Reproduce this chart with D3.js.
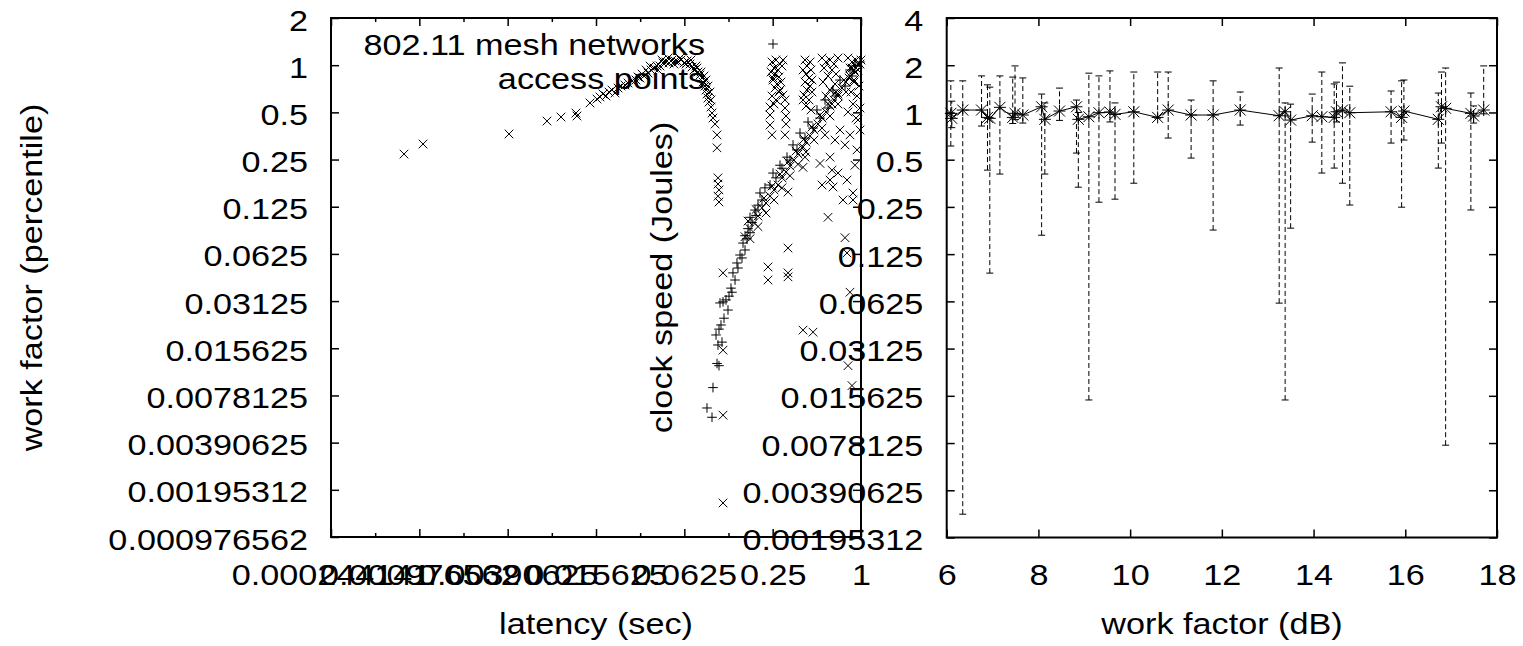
<!DOCTYPE html>
<html><head><meta charset="utf-8">
<script src="https://cdnjs.cloudflare.com/ajax/libs/d3/7.8.5/d3.min.js"></script>
<style>
body{margin:0;background:#fff}
text{font-family:"Liberation Sans",Arial,Helvetica,sans-serif;font-size:30px;fill:#000}
</style>
</head><body>
<svg id="c" width="1523" height="646"></svg>
<script>
// ---------------- DATA ----------------
const leftXTickValues = [0.000244140625, 0.0009765625, 0.00390625, 0.015625, 0.0625, 0.25, 1];
const leftXTickLabels = ["0.000244141","0.000976562","0.00390625","0.015625","0.0625","0.25","1"];
const leftXMinorTicks = [0.00048828125, 0.001953125, 0.0078125, 0.03125, 0.125, 0.5];
const leftYTickValues = [0.0009765625,0.001953125,0.00390625,0.0078125,0.015625,0.03125,0.0625,0.125,0.25,0.5,1,2];
const leftYTickLabels = ["0.000976562","0.00195312","0.00390625","0.0078125","0.015625","0.03125","0.0625","0.125","0.25","0.5","1","2"];
const rightXTickValues = [6,8,10,12,14,16,18];
const rightYTickValues = [0.001953125,0.00390625,0.0078125,0.015625,0.03125,0.0625,0.125,0.25,0.5,1,2,4];
const rightYTickLabels = ["0.00195312","0.00390625","0.0078125","0.015625","0.03125","0.0625","0.125","0.25","0.5","1","2","4"];

const seriesNames = ["802.11 mesh networks", "access points"];

// series "802.11 mesh networks" (+) : [latency, work factor]
const meshNetworks = [
[0.0892,0.0065],[0.0965,0.00567],[0.098,0.00877],[0.1044,0.0125],[0.1077,0.0121],[0.1077,0.0207],[0.1129,0.0171],
[0.1094,0.0304],[0.1147,0.0309],[0.124,0.0274],[0.132,0.0356],[0.1341,0.0473],[0.1428,0.0547],[0.1498,0.0615],
[0.157,0.0733],[0.1671,0.0781],[0.1752,0.0853],[0.1752,0.107],[0.1895,0.119],[0.2049,0.153],[0.2216,0.165],
[0.2514,0.205],[0.2805,0.23],[0.3131,0.259],[0.344,0.31],[0.384,0.369],[0.4354,0.434],[0.5011,0.518],[0.5684,0.6],
[0.6444,0.694],[0.7192,0.804],[0.8415,0.932],[0.9101,0.988],[0.9844,1.048],
[0.1028,0.019],[0.106,0.0164],[0.1111,0.022],[0.1165,0.0243],[0.1202,0.0318],[0.126,0.0336],[0.13,0.0378],
[0.1385,0.0426],[0.145,0.0508],[0.1545,0.0589],[0.162,0.0662],[0.162,0.0817],[0.1698,0.0906],[0.1808,0.0991],
[0.1925,0.11],[0.1986,0.128],[0.2114,0.138],
[0.2398,0.172],[0.2634,0.191],[0.2894,0.22],[0.3282,0.248],[0.3662,0.288],[0.4153,0.343],[0.4709,0.397],
[0.5255,0.46],[0.5957,0.533],[0.6755,0.636],[0.778,0.736],[0.8683,0.853]
];

// series "access points" (x)
const accessPoints = [
[0.000768,0.271],[0.001035,0.314],[0.00399,0.364],[0.00724,0.44],[0.00902,0.467],[0.01141,0.495],[0.01159,0.474],
[0.01422,0.574],[0.01587,0.608],
[0.01664,0.627],[0.01744,0.655],[0.01828,0.636],[0.01916,0.674],[0.02008,0.694],[0.02106,0.665],[0.02208,0.715],
[0.02314,0.736],[0.02463,0.747],[0.02584,0.77],[0.0275,0.793],[0.02929,0.804],[0.03118,0.828],[0.0332,0.853],
[0.03534,0.891],[0.03704,0.932],[0.03885,0.959],[0.04072,0.988],[0.04268,0.988],[0.04474,1.033],[0.04689,1.048],
[0.04915,1.033],[0.05151,1.079],[0.05399,1.064],[0.0566,1.048],[0.05932,1.079],[0.06218,1.033],[0.06517,1.064],
[0.06831,1.017],[0.0705,0.974],[0.07275,0.932],[0.07509,0.988],[0.07749,0.905],[0.07995,0.866],[0.0825,0.828],
[0.0838,0.781],[0.0865,0.736],[0.0878,0.694],[0.0892,0.655],[0.0906,0.617],[0.0921,0.582],[0.095,0.541],
[0.0965,0.495],[0.098,0.46],[0.1012,0.421],[0.1044,0.359],[0.1044,0.297],[0.106,0.191],[0.106,0.1745],
[0.1077,0.16],[0.106,0.146],[0.1077,0.134],[0.1147,0.0473],[0.1147,0.0152],[0.1147,0.00585],[0.1147,0.00161],
[0.0365,0.988],[0.0413,0.932],[0.044,1.079],[0.0484,1.111],[0.0531,1.017],[0.0584,1.111],[0.0642,1.017],
[0.0694,1.079],[0.0762,0.959],[0.0812,0.905],[0.0851,0.853],[0.0878,0.804],[0.0906,0.736],[0.0935,0.674],
[0.095,0.6],[0.0343,0.932],[0.0322,0.878],[0.0302,0.841],
[0.2474,1.048],[0.2634,1.079],[0.2805,1.017],[0.2554,0.959],[0.2718,0.932],[0.2894,0.988],[0.2594,0.878],
[0.2761,0.841],[0.2514,0.804],[0.2676,0.758],[0.2849,0.781],[0.2594,0.715],[0.2761,0.674],[0.2474,0.636],
[0.2634,0.6],[0.2398,0.541],[0.2398,0.481],[0.2398,0.415],[0.2474,0.359],
[0.2436,0.905],[0.294,1.079],[0.2805,0.694],[0.294,0.645],[0.2554,0.565],
[0.3034,0.6],[0.3034,0.533],[0.3082,0.474],[0.3082,0.421],[0.3034,0.359],
[0.4153,1.079],[0.4493,1.048],[0.4286,0.988],[0.4563,0.932],[0.4219,0.878],[0.4423,0.828],[0.4153,0.781],
[0.4493,0.736],[0.4286,0.694],[0.4089,0.645],[0.4423,0.6],[0.4219,0.549],[0.4563,0.518],
[0.4025,0.932],[0.4635,0.804],[0.4025,0.6],[0.4635,0.674],
[0.5422,1.111],[0.5773,1.048],[0.6148,1.079],[0.6546,1.017],[0.697,1.111],[0.5595,0.959],[0.6344,0.932],
[0.6755,0.878],[0.5957,0.853],[0.5508,0.781],[0.6649,0.758],[0.6148,0.694],[0.5773,0.636],[0.697,0.636],[0.6344,0.565],
[0.8155,1.111],[0.8683,1.048],[0.9245,1.079],[0.9844,1.017],[0.8415,0.959],[0.9101,0.905],[0.954,0.932],
[0.8284,0.828],[0.8959,0.781],[0.9691,0.736],[0.8548,0.674],[0.9391,0.636],[0.882,0.565],[0.9844,0.533],
[0.8155,0.503],[0.9245,0.46],
[0.162,0.0805],[0.1752,0.0906],[0.1866,0.0991],[0.1986,0.109],[0.2114,0.123],[0.2251,0.132],[0.2398,0.146],
[0.2554,0.16],[0.2718,0.172],[0.2894,0.191],[0.3082,0.208],[0.3282,0.227],[0.3495,0.248],[0.372,0.271],
[0.3962,0.297],[0.4219,0.323],[0.4493,0.354],[0.4783,0.386],[0.509,0.421],[0.5422,0.46],[0.5773,0.503],
[0.6148,0.549],[0.6546,0.6],[0.697,0.655],[0.7421,0.715],[0.7903,0.781],[0.8415,0.853],[0.8959,0.932],
[0.954,1.017],[1.0,1.079],
[0.1752,0.0781],[0.1986,0.0933],[0.2251,0.114],[0.2554,0.138],[0.2894,0.165],[0.3282,0.197],[0.372,0.233],
[0.4219,0.279],[0.4783,0.333],[0.5422,0.397],[0.6148,0.474],[0.697,0.565],[0.7903,0.674],[0.8959,0.804],
[0.1698,0.1013],[0.1925,0.120],[0.2182,0.142],[0.2474,0.1695],[0.2805,0.202],[0.318,0.241],[0.3606,0.2834],
[0.4089,0.338],[0.4635,0.4032],[0.5255,0.481],[0.5957,0.569],[0.6755,0.674],[0.7658,0.804],[0.8683,0.959],
[0.318,0.155],[0.4025,0.301],[0.4153,0.259],[0.4025,0.223],[0.5255,0.236],[0.5422,0.172],[0.6148,0.259],
[0.6344,0.214],[0.6148,0.185],[0.6444,0.167],[0.697,0.205],[0.8028,0.185],[0.882,0.153],[0.5957,0.107],
[0.7538,0.138],[0.882,0.138],[0.778,0.0793],[0.8028,0.0634],[0.8415,0.0356],[0.318,0.0681],[0.2324,0.0516],
[0.2324,0.0426],[0.318,0.0473],[0.318,0.0446],[0.4025,0.0204],[0.4709,0.0198],[0.8155,0.0121],[0.8683,0.00903],
[0.9391,0.288],[0.9101,0.23],[0.9844,0.386],[0.954,0.447],[0.778,0.31],[0.7192,0.386],[0.8415,0.359],
[0.6649,0.333],[0.5684,0.359]
];

// right panel: work factor (dB) vs clock speed (Joules) with low / high
const rightX  = [6.09,6.11,6.35,6.76,6.89,6.94,7.16,7.44,7.49,7.66,8.07,8.14,8.46,8.83,8.87,9.10,9.32,9.56,9.67,10.08,10.60,10.83,11.33,11.81,12.40,13.25,13.38,13.50,13.97,14.18,14.45,14.50,14.63,14.79,15.69,15.92,15.97,16.72,16.79,16.88,17.43,17.49,17.71];
const rightY  = [0.987,0.917,1.036,1.036,0.930,0.917,1.078,0.930,0.987,0.963,1.087,0.904,1.021,1.087,0.904,0.939,0.996,1.006,0.972,1.010,0.930,1.036,0.963,0.963,1.036,0.953,1.010,0.894,0.953,0.939,0.930,1.010,1.036,0.996,1.010,0.930,1.021,0.904,1.087,1.062,0.987,0.949,1.036];
const rightLo = [0.611,0.80,0.00275,0.819,0.429,0.0946,0.405,0.85,0.90,0.856,0.165,0.405,0.89,0.551,0.334,0.0147,0.268,0.87,0.280,0.354,0.92,0.687,0.512,0.178,0.831,0.0609,0.0147,0.183,0.647,0.411,0.442,0.87,0.354,0.257,0.638,0.249,0.667,0.442,0.638,0.00757,0.239,0.856,0.98];
const rightHi = [1.59,1.18,1.59,1.71,1.50,1.45,1.71,1.68,1.98,1.66,1.31,1.15,1.43,1.20,1.00,1.78,1.71,1.84,1.15,1.81,1.81,1.81,1.20,1.59,1.35,1.92,1.15,1.13,1.31,1.81,1.52,1.56,2.07,1.47,1.37,1.59,1.61,1.33,1.81,1.92,1.33,1.10,1.98];

// ---------------- DRAW ----------------
const SX = 1.14; // horizontal glyph stretch of the original rendering
const svg = d3.select("#c");

const lx = d3.scaleLog().base(2).domain([leftXTickValues[0], leftXTickValues[6]]).range([331, 861]);
const ly = d3.scaleLog().base(2).domain([leftYTickValues[0], leftYTickValues[11]]).range([537, 18]);
const rx = d3.scaleLinear().domain([6, 18]).range([946.7, 1497]);
const ry = d3.scaleLog().base(2).domain([rightYTickValues[0], rightYTickValues[11]]).range([537.5, 18]);

function styleAxis(g){
  g.select(".domain").remove();
  g.selectAll(".tick line").attr("stroke","#000").attr("stroke-width",1.5);
}
function addAxis(axis, tx, ty){
  return svg.append("g").attr("transform",`translate(${tx},${ty})`).call(axis).call(styleAxis);
}
function leftLabels(g, pad){
  g.selectAll(".tick text").attr("x", -pad/SX).attr("dy", null).attr("y", 12)
   .attr("transform", `scale(${SX},1)`);
}
function bottomLabels(g){
  g.selectAll(".tick text").attr("y", 48).attr("dy", null).attr("transform", `scale(${SX},1)`);
}

// ----- left panel axes -----
const gLY = addAxis(d3.axisLeft(ly).tickValues(leftYTickValues).tickFormat((d,i)=>leftYTickLabels[i]).tickSize(-8).tickPadding(23), 331, 0);
leftLabels(gLY, 23);
addAxis(d3.axisRight(ly).tickValues(leftYTickValues).tickFormat("").tickSize(-8), 861, 0);
const gLX = addAxis(d3.axisBottom(lx).tickValues(leftXTickValues).tickFormat((d,i)=>leftXTickLabels[i]).tickSize(-8), 0, 537);
bottomLabels(gLX);
addAxis(d3.axisBottom(lx).tickValues(leftXMinorTicks).tickFormat("").tickSize(-4), 0, 537);
addAxis(d3.axisTop(lx).tickValues(leftXTickValues).tickFormat("").tickSize(-8), 0, 18);
addAxis(d3.axisTop(lx).tickValues(leftXMinorTicks).tickFormat("").tickSize(-4), 0, 18);
svg.append("rect").attr("x",331).attr("y",18).attr("width",530).attr("height",519)
  .attr("fill","none").attr("stroke","#000").attr("stroke-width",2);

// ----- right panel axes -----
const gRY = addAxis(d3.axisLeft(ry).tickValues(rightYTickValues).tickFormat((d,i)=>rightYTickLabels[i]).tickSize(-8).tickPadding(23.5), 946.7, 0);
leftLabels(gRY, 23.5);
addAxis(d3.axisRight(ry).tickValues(rightYTickValues).tickFormat("").tickSize(-8), 1497, 0);
const gRX = addAxis(d3.axisBottom(rx).tickValues(rightXTickValues).tickFormat(d3.format("d")).tickSize(-8), 0, 537.5);
bottomLabels(gRX);
addAxis(d3.axisTop(rx).tickValues(rightXTickValues).tickFormat("").tickSize(-8), 0, 18);
svg.append("rect").attr("x",946.7).attr("y",18).attr("width",550.3).attr("height",519.5)
  .attr("fill","none").attr("stroke","#000").attr("stroke-width",2);

// ----- markers -----
function plusPath(x,y,s){ return `M${x-s},${y}L${x+s},${y}M${x},${y-s}L${x},${y+s}`; }
function timesPath(x,y,s){ return `M${x-s},${y-s}L${x+s},${y+s}M${x-s},${y+s}L${x+s},${y-s}`; }

const gm = svg.append("g").attr("stroke","#000").attr("stroke-width",1).attr("fill","none");
gm.selectAll("path.ap").data(accessPoints).join("path").attr("class","ap")
  .attr("d", d => timesPath(lx(d[0]), ly(d[1]), 4.3));
gm.selectAll("path.mn").data(meshNetworks).join("path").attr("class","mn")
  .attr("d", d => plusPath(lx(d[0]), ly(d[1]), 4.8));

// legend
function stretchedText(txt, x, y, anchor, rot){
  return svg.append("text").text(txt).attr("text-anchor", anchor)
    .attr("transform", `translate(${x},${y})${rot?` rotate(${rot})`:""} scale(${SX},1)`);
}
stretchedText(seriesNames[0], 705, 55, "end");
stretchedText(seriesNames[1], 705, 89, "end");
gm.append("path").attr("d", plusPath(773, 44, 4.8));
gm.append("path").attr("d", timesPath(773, 78, 4.3));

// ----- right panel data -----
const rpts = rightX.map((x,i)=>({x, y:rightY[i], lo:rightLo[i], hi:rightHi[i]}));
const ge = svg.append("g").attr("stroke","#000").attr("stroke-width",1).attr("fill","none");
ge.selectAll("line.bar").data(rpts).join("line").attr("class","bar")
  .attr("x1", d=>rx(d.x)).attr("x2", d=>rx(d.x)).attr("y1", d=>ry(d.lo)).attr("y2", d=>ry(d.hi))
  .attr("stroke-dasharray","5,3");
ge.selectAll("line.capl").data(rpts).join("line").attr("class","capl")
  .attr("x1", d=>rx(d.x)-3.5).attr("x2", d=>rx(d.x)+3.5).attr("y1", d=>ry(d.lo)).attr("y2", d=>ry(d.lo));
ge.selectAll("line.caph").data(rpts).join("line").attr("class","caph")
  .attr("x1", d=>rx(d.x)-3.5).attr("x2", d=>rx(d.x)+3.5).attr("y1", d=>ry(d.hi)).attr("y2", d=>ry(d.hi));
ge.append("path").datum(rpts).attr("d", d3.line().x(d=>rx(d.x)).y(d=>ry(d.y)));
ge.selectAll("path.star").data(rpts).join("path").attr("class","star")
  .attr("d", d => plusPath(rx(d.x), ry(d.y), 6) + timesPath(rx(d.x), ry(d.y), 5.5));

// ----- titles -----
stretchedText("latency (sec)", 596, 634, "middle");
stretchedText("work factor (dB)", 1222, 634, "middle");
stretchedText("work factor (percentile)", 42, 277.5, "middle", -90);
stretchedText("clock speed (Joules)", 672, 277.5, "middle", -90);
</script>
</body></html>
